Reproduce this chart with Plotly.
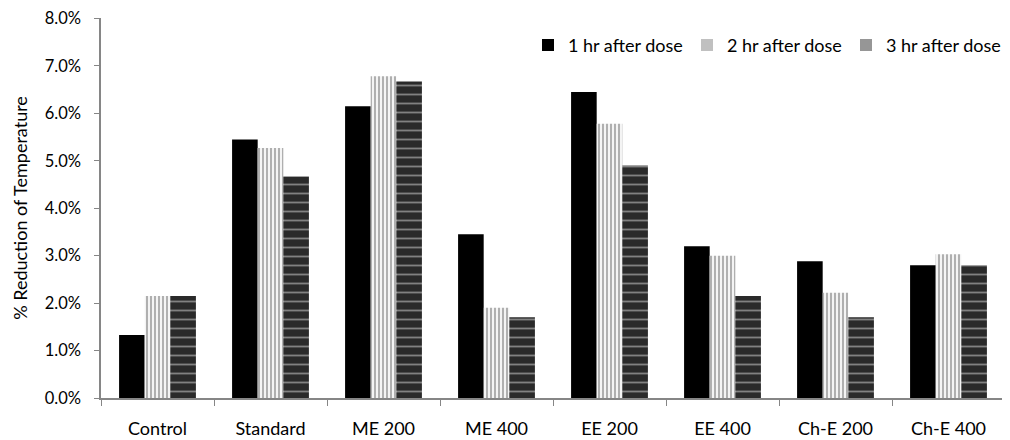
import plotly.graph_objects as go

categories = ["Control", "Standard", "ME 200", "ME 400", "EE 200", "EE 400", "Ch-E 200", "Ch-E 400"]
series_names = ["1 hr after dose", "2 hr after dose", "3 hr after dose"]
hr1 = [1.33, 5.45, 6.15, 3.45, 6.45, 3.20, 2.88, 2.80]
hr2 = [2.15, 5.27, 6.78, 1.90, 5.78, 3.00, 2.22, 3.03]
hr3 = [2.15, 4.67, 6.67, 1.70, 4.90, 2.15, 1.70, 2.80]
y_ticks = [0, 1, 2, 3, 4, 5, 6, 7, 8]
legend_colors = ["#000000", "#c0c0c0", "#969696"]

font = "Lato, Open Sans, sans-serif"
fig = go.Figure()
fig.add_bar(x=categories, y=[v / 100 for v in hr1], name=series_names[0], showlegend=False,
            legendgroup="a", marker=dict(color="#000000", line=dict(width=0)))
fig.add_bar(x=categories, y=[v / 100 for v in hr2], name=series_names[1], showlegend=False,
            legendgroup="b",
            marker=dict(color="#c8c8c8", line=dict(width=0),
                        pattern=dict(shape="|", bgcolor="#f4f4f4", fgcolor="#303030",
                                     size=4, solidity=0.35, fillmode="overlay")))
fig.add_bar(x=categories, y=[v / 100 for v in hr3], name=series_names[2], showlegend=False,
            legendgroup="c",
            marker=dict(color="#2a2a2a", line=dict(width=0),
                        pattern=dict(shape="-", bgcolor="#2a2a2a", fgcolor="#d8d8d8",
                                     size=9, solidity=0.2, fillmode="overlay")))
for name, col, grp in zip(series_names, legend_colors, ["a", "b", "c"]):
    fig.add_scatter(x=[None], y=[None], mode="markers", name=name, legendgroup=grp,
                    marker=dict(symbol="square", size=12, color=col, line=dict(width=0)))

fig.update_layout(
    width=1002, height=432,
    margin=dict(l=93, r=5, t=10, b=42, autoexpand=False),
    paper_bgcolor="white", plot_bgcolor="white",
    barmode="group", bargap=0.32, bargroupgap=0,
    font=dict(family=font, size=17, color="#000"),
    showlegend=True,
    legend=dict(orientation="h", x=1.0, xanchor="right", y=0.928, yanchor="middle",
                font=dict(size=18), bgcolor="rgba(0,0,0,0)", itemwidth=30,
                entrywidth=114, entrywidthmode="pixels", traceorder="normal"),
    xaxis=dict(showline=True, linecolor="#868686", linewidth=1.5, ticks="outside",
               tickson="boundaries", ticklen=6, tickcolor="#868686", showgrid=False,
               tickfont=dict(size=18), ticklabelstandoff=14, tickangle=0),
    yaxis=dict(range=[0, 0.0801], tickvals=[t / 100 for t in y_ticks], tickformat=".1%",
               showline=True, linecolor="#868686", linewidth=1.5, ticks="outside",
               ticklen=5, tickcolor="#868686", showgrid=False, zeroline=False,
               title=dict(text="% Reduction of Temperature", font=dict(size=18), standoff=12),
               tickfont=dict(size=16.5), ticklabelstandoff=10),
)
fig.write_html("out.html")
